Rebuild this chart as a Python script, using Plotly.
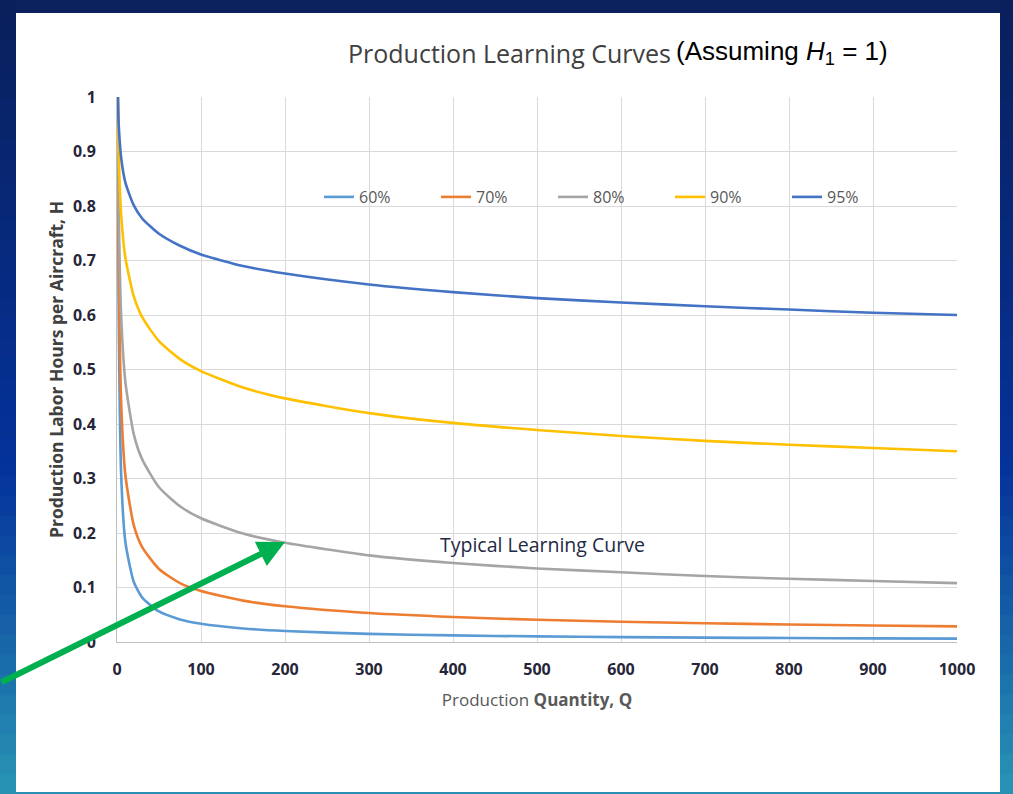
import plotly.graph_objects as go

# ---- data ----
quantity = [1, 2, 5, 10, 20, 30, 50, 75, 100, 150, 200, 300, 400, 500, 600, 700, 800, 900, 1000]
h_60 = [1.0, 0.600, 0.305, 0.183, 0.110, 0.0815, 0.056, 0.0415, 0.0336, 0.0249, 0.0201, 0.0149,
        0.0121, 0.0103, 0.0090, 0.0080, 0.0073, 0.0066, 0.0062]
h_70 = [1.0, 0.700, 0.437, 0.306, 0.214, 0.174, 0.134, 0.108, 0.0935, 0.0759, 0.0655, 0.0531,
        0.0458, 0.0408, 0.0372, 0.0344, 0.0321, 0.0302, 0.0286]
h_80 = [1.0, 0.800, 0.596, 0.477, 0.381, 0.335, 0.284, 0.249, 0.227, 0.199, 0.182, 0.159,
        0.145, 0.135, 0.128, 0.121, 0.116, 0.112, 0.108]
h_90 = [1.0, 0.900, 0.783, 0.705, 0.634, 0.596, 0.552, 0.519, 0.497, 0.467, 0.447, 0.420,
        0.402, 0.389, 0.378, 0.369, 0.362, 0.356, 0.350]
h_95 = [1.0, 0.950, 0.888, 0.843, 0.801, 0.777, 0.749, 0.727, 0.711, 0.690, 0.676, 0.656,
        0.642, 0.631, 0.623, 0.616, 0.610, 0.604, 0.600]
series_names = ["60%", "70%", "80%", "90%", "95%"]
series_values = [h_60, h_70, h_80, h_90, h_95]
series_colors = ["#5b9bd5", "#ed7d31", "#a5a5a5", "#ffc000", "#4472c4"]
x_ticks = [0, 100, 200, 300, 400, 500, 600, 700, 800, 900, 1000]
y_ticks = [0, 0.1, 0.2, 0.3, 0.4, 0.5, 0.6, 0.7, 0.8, 0.9, 1]
y_tick_labels = ["0", "0.1", "0.2", "0.3", "0.4", "0.5", "0.6", "0.7", "0.8", "0.9", "1"]

W, H = 1013, 794
L, R, T, B = 117, 56, 97, 152
PW, PH = W - L - R, H - T - B
BODY = "Open Sans"


def px_x(p):
    return (p - L) / PW


def px_y(p):
    return (H - B - p) / PH


fig = go.Figure()
for name, vals, col in zip(series_names, series_values, series_colors):
    fig.add_trace(go.Scatter(x=quantity, y=vals, name=name, mode="lines",
                             line=dict(color=col, width=2.6, shape="spline", smoothing=0.6)))

shapes = []


def lerp(c1, c2, t):
    return "#%02x%02x%02x" % tuple(int(round(a + (b - a) * t)) for a, b in zip(c1, c2))


top_c = (0x0a, 0x20, 0x5c)
mid_c = (0x04, 0x33, 0x9c)
bot_c = (0x28, 0x92, 0xb4)
N = 40
for i in range(N):
    y0p = H * i / N
    y1p = H * (i + 1) / N + 2
    t = i / (N - 1)
    if t < 0.6:
        c = lerp(top_c, mid_c, t / 0.6)
    else:
        c = lerp(mid_c, bot_c, (t - 0.6) / 0.4)
    for xa, xb in [(0, 16), (1000, W)]:
        shapes.append(dict(type="rect", xref="paper", yref="paper", layer="below",
                           x0=px_x(xa), x1=px_x(xb), y0=px_y(y1p), y1=px_y(y0p),
                           fillcolor=c, line=dict(width=1, color=c)))
shapes.append(dict(type="rect", xref="paper", yref="paper", layer="below",
                   x0=px_x(16), x1=px_x(1000), y0=px_y(13), y1=px_y(0),
                   fillcolor="#0b215e", line=dict(width=0)))
shapes.append(dict(type="rect", xref="paper", yref="paper", layer="below",
                   x0=px_x(16), x1=px_x(1000), y0=px_y(H), y1=px_y(792),
                   fillcolor="#2a8fb5", line=dict(width=0)))
shapes.append(dict(type="rect", xref="paper", yref="paper", layer="below",
                   x0=px_x(16), x1=px_x(1000), y0=px_y(792), y1=px_y(13),
                   fillcolor="white", line=dict(width=0)))

annotations = [
    dict(xref="paper", yref="paper", x=px_x(346), y=px_y(53), xanchor="left", yanchor="middle",
         text="Production Learning Curves", showarrow=False,
         font=dict(family=BODY, size=25, color="#404040")),
    dict(xref="paper", yref="paper", x=px_x(674), y=px_y(52), xanchor="left", yanchor="middle",
         text="(Assuming <i>H</i><sub>1</sub> = 1)", showarrow=False,
         font=dict(family="Liberation Sans, Arial", size=26, color="#000000")),
    dict(x=507, y=0.178, xref="x", yref="y", text="Typical Learning Curve", showarrow=False,
         font=dict(family=BODY, size=19.5, color="#1f2a44")),
    dict(x=200, y=0.1835, xref="x", yref="y", text="", showarrow=True,
         ax=-300, ay=141, axref="pixel", ayref="pixel",
         arrowhead=2, arrowsize=0.9, arrowwidth=6, arrowcolor="#00b050"),
]

fig.update_layout(
    width=W, height=H,
    margin=dict(l=L, r=R, t=T, b=B, pad=0),
    paper_bgcolor="white", plot_bgcolor="white",
    shapes=shapes, annotations=annotations,
    showlegend=True,
    legend=dict(orientation="h", x=px_x(319), y=px_y(197), xanchor="left", yanchor="middle",
                bgcolor="rgba(0,0,0,0)", entrywidth=72, entrywidthmode="pixels",
                font=dict(family=BODY, size=16, color="#595959"), itemwidth=30,
                tracegroupgap=0),
    xaxis=dict(range=[0, 1000], tickvals=x_ticks, ticktext=[str(v) for v in x_ticks],
               showgrid=True, gridcolor="#d9d9d9", gridwidth=1,
               showline=True, linecolor="#bfbfbf", linewidth=1, mirror=False,
               zeroline=False, ticks="", ticklabelstandoff=13,
               tickfont=dict(family=BODY, size=16, color="#262638", weight="bold"),
               title=dict(text="Production <b>Quantity, Q</b>", standoff=14,
                          font=dict(family=BODY, size=17, color="#595959"))),
    yaxis=dict(range=[0, 1], tickvals=y_ticks, ticktext=y_tick_labels,
               showgrid=True, gridcolor="#d9d9d9", gridwidth=1,
               showline=True, linecolor="#bfbfbf", linewidth=1,
               zeroline=False, ticks="", ticklabelstandoff=17,
               tickfont=dict(family=BODY, size=16, color="#262638", weight="bold"),
               title=dict(text="Production Labor Hours per Aircraft, H", standoff=4,
                          font=dict(family=BODY, size=17.5, color="#404040", weight="bold"))),
)

fig.write_html("out.html")
